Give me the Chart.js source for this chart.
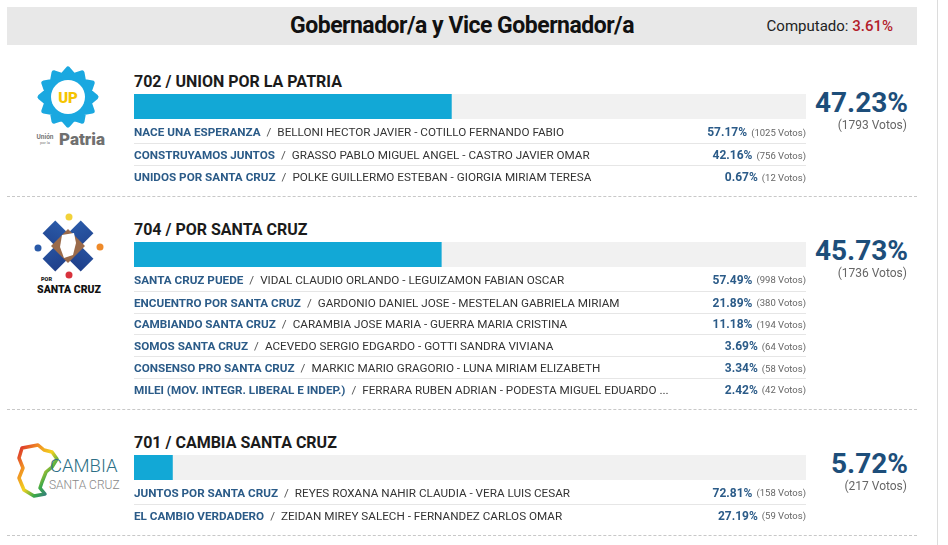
<!DOCTYPE html>
<html>
<head>
<meta charset="utf-8">
<script src="https://cdn.jsdelivr.net/npm/chart.js@4.4.0/dist/chart.umd.min.js"></script>
<style>
  body { margin: 0; background: #fff; font-family: Roboto, "Noto Sans", sans-serif; }
  #page { position: relative; width: 948px; height: 545px; overflow: hidden; }
  .abs { position: absolute; white-space: nowrap; }
  #header { left: 7px; top: 7px; width: 910px; height: 38px; background: #e8e8e8; }
  #title { left: 0; width: 910px; top: 0; line-height: 38px; text-align: center; font-size: 23px; font-weight: 700; color: #111; letter-spacing: -0.5px; }
  #computado { right: 24px; top: 0; line-height: 38px; font-size: 15px; color: #222; }
  #computado b { color: #b3202a; font-weight: 500; }
  #vline { left: 937px; top: 0; width: 1px; height: 545px; background: #dcdcdc; }
  .listTitle { font-size: 16px; font-weight: 700; color: #1b1b1b; line-height: 26px; }
  .row { left: 134px; width: 672px; font-size: 11.7px; color: #333; display: flex; align-items: center; }
  .row.sep { border-top: 1px solid #e6e6e6; }
  .row .nm { color: #2b5b88; font-weight: 700; }
  .row .sl { color: #555; margin: 0 6px; }
  .row .cand { flex: 1; overflow: hidden; }
  .row .pct { color: #2b5b88; font-weight: 700; font-size: 12px; }
  .row .vt { color: #666; font-size: 9.5px; margin-left: 4px; }
  .big { right: 40px; font-size: 28px; font-weight: 700; color: #1d4e7a; text-align: right; line-height: 30px; }
  .bigv { right: 41px; font-size: 12px; color: #666; text-align: right; }
  .dash { left: 7px; width: 910px; height: 0; border-top: 1px dashed #c8c8c8; }
</style>
</head>
<body>
<div id="page">
  <div id="header" class="abs">
    <div id="title" class="abs">Gobernador/a y Vice Gobernador/a</div>
    <div id="computado" class="abs">Computado: <b>3.61%</b></div>
  </div>
  <div id="vline" class="abs"></div>
</div>

<script>
// ================= DATA =================
const computado = 3.61;

const listNames = ["702 / UNION POR LA PATRIA", "704 / POR SANTA CRUZ", "701 / CAMBIA SANTA CRUZ"];
const listPct = [47.23, 45.73, 5.72];
const listVotes = [1793, 1736, 217];

const subNames = [
    ["NACE UNA ESPERANZA", "CONSTRUYAMOS JUNTOS", "UNIDOS POR SANTA CRUZ"],
    ["SANTA CRUZ PUEDE", "ENCUENTRO POR SANTA CRUZ", "CAMBIANDO SANTA CRUZ", "SOMOS SANTA CRUZ", "CONSENSO PRO SANTA CRUZ", "MILEI (MOV. INTEGR. LIBERAL E INDEP.)"],
    ["JUNTOS POR SANTA CRUZ", "EL CAMBIO VERDADERO"]
];
const subCandidates = [
    ["BELLONI HECTOR JAVIER - COTILLO FERNANDO FABIO", "GRASSO PABLO MIGUEL ANGEL - CASTRO JAVIER OMAR", "POLKE GUILLERMO ESTEBAN - GIORGIA MIRIAM TERESA"],
    ["VIDAL CLAUDIO ORLANDO - LEGUIZAMON FABIAN OSCAR", "GARDONIO DANIEL JOSE - MESTELAN GABRIELA MIRIAM", "CARAMBIA JOSE MARIA - GUERRA MARIA CRISTINA", "ACEVEDO SERGIO EDGARDO - GOTTI SANDRA VIVIANA", "MARKIC MARIO GRAGORIO - LUNA MIRIAM ELIZABETH", "FERRARA RUBEN ADRIAN - PODESTA MIGUEL EDUARDO ..."],
    ["REYES ROXANA NAHIR CLAUDIA - VERA LUIS CESAR", "ZEIDAN MIREY SALECH - FERNANDEZ CARLOS OMAR"]
];
const subPct = [
    [57.17, 42.16, 0.67],
    [57.49, 21.89, 11.18, 3.69, 3.34, 2.42],
    [72.81, 27.19]
];
const subVotes = [
    [1025, 756, 12],
    [998, 380, 194, 64, 58, 42],
    [158, 59]
];

// ================= HELPERS =================
const page = document.getElementById("page");

function addDiv(cls, style, html) {
    let d = document.createElement("div");
    d.className = "abs " + cls;
    d.style.cssText = style;
    d.innerHTML = html;
    page.appendChild(d);
    return d;
}

function fmt(v) {
    return v.toFixed(2) + "%";
}

// ================= LOGOS =================
function starPoints(cx, cy, n, r1, r2) {
    let pts = [];
    for (let i = 0; i < n * 2; i++) {
        let r = i % 2 === 0 ? r1 : r2;
        let a = Math.PI * i / n - Math.PI / 2;
        pts.push((cx + r * Math.cos(a)).toFixed(1) + "," + (cy + r * Math.sin(a)).toFixed(1));
    }
    return pts.join(" ");
}

const logos = [
    `<svg width="100" height="90" viewBox="0 0 100 90">
        <polygon points="${starPoints(52, 33, 12, 28, 22)}" fill="#1aa8e0" stroke="#1aa8e0" stroke-width="5" stroke-linejoin="round"/>
        <circle cx="52" cy="33" r="17" fill="#fff"/>
        <text x="52" y="39" text-anchor="middle" font-family="Roboto" font-weight="900" font-size="15" fill="#f5c400">UP</text>
        <text x="29" y="75" text-anchor="middle" font-family="Roboto" font-weight="700" font-size="6.5" fill="#777">Unión</text>
        <text x="29" y="80" text-anchor="middle" font-family="Roboto" font-size="4" fill="#777">por la</text>
        <text x="66" y="81" text-anchor="middle" font-family="Roboto" font-weight="900" font-size="17" fill="#707070">Patria</text>
    </svg>`,
    `<svg width="100" height="90" viewBox="0 0 100 90">
        <defs>
            <linearGradient id="gx" x1="0" y1="0" x2="1" y2="1">
                <stop offset="0" stop-color="#2a5aa8"/><stop offset="1" stop-color="#1f3f8a"/>
            </linearGradient>
        </defs>
        <g transform="rotate(45 50 35)">
            <rect x="41" y="8" width="18" height="54" fill="url(#gx)"/>
            <rect x="23" y="26" width="54" height="18" fill="url(#gx)"/>
        </g>
        <rect x="38" y="23" width="24" height="24" fill="#9a6a4a" transform="rotate(45 50 35)"/>
        <path d="M44 24 L56 22 L58 32 L55 44 L46 47 L42 36 Z" fill="#fff"/>
        <circle cx="51" cy="6" r="3.5" fill="#f2d23a"/>
        <circle cx="20" cy="37" r="3.5" fill="#2a5aa8"/>
        <circle cx="82" cy="36" r="3.5" fill="#ee8a2a"/>
        <circle cx="51" cy="64" r="3.5" fill="#d8323c"/>
        <text x="23" y="70" font-family="Roboto" font-weight="900" font-size="5.5" fill="#111">POR</text>
        <text x="51" y="82" text-anchor="middle" font-family="Roboto" font-weight="900" font-size="10.5" fill="#111">SANTA CRUZ</text>
    </svg>`,
    `<svg width="115" height="70" viewBox="0 0 115 70">
        <defs>
            <linearGradient id="gr" x1="0" y1="0" x2="1" y2="1">
                <stop offset="0" stop-color="#d8262c"/><stop offset="0.25" stop-color="#f08a24"/>
                <stop offset="0.5" stop-color="#f2d21f"/><stop offset="0.7" stop-color="#39a84a"/>
                <stop offset="1" stop-color="#3355b0"/>
            </linearGradient>
        </defs>
        <path d="M10 16 L26 13 L32 18 L40 20 L45 27 L40 35 L34 40 L30 50 L28 56 L33 62 L22 64 L12 58 L7 46 L11 36 L7 26 Z" fill="none" stroke="url(#gr)" stroke-width="3.5" stroke-linejoin="round"/>
        <text x="38" y="40" font-family="Roboto" font-weight="300" font-size="18.5" fill="#2d6f86">CAMBIA</text>
        <text x="37" y="57" font-family="Roboto" font-weight="300" font-size="12" fill="#888">SANTA CRUZ</text>
    </svg>`
];
const logoPos = [
    { left: 16, top: 64 },
    { left: 18, top: 211 },
    { left: 12, top: 432 }
];

// ================= SECTIONS =================
const rowH = [22, 21.8, 21.8];
let y = 68;

for (let i = 0; i < listNames.length; i++) {
    addDiv("", `left:${logoPos[i].left}px; top:${logoPos[i].top}px;`, logos[i]);

    addDiv("listTitle", `left:134px; top:${y + 1}px;`, listNames[i]);

    let barTop = y + 26;
    let holder = addDiv("", `left:134px; top:${barTop}px; width:672px; height:25px;`, "");
    let canvas = document.createElement("canvas");
    canvas.width = 672;
    canvas.height = 25;
    holder.appendChild(canvas);

    new Chart(canvas, {
        type: "bar",
        data: {
            labels: [listNames[i]],
            datasets: [
                { data: [listPct[i]], backgroundColor: "#12a8d6", order: 0, grouped: false },
                { data: [100], backgroundColor: "#f1f1f1", order: 1, grouped: false }
            ]
        },
        options: {
            indexAxis: "y",
            responsive: false,
            animation: false,
            devicePixelRatio: 1,
            barPercentage: 1,
            categoryPercentage: 1,
            layout: { padding: 0 },
            plugins: { legend: { display: false }, tooltip: { enabled: false } },
            scales: {
                x: { min: 0, max: 100, display: false },
                y: { display: false }
            }
        }
    });

    addDiv("big", `top:${barTop - 6}px;`, fmt(listPct[i]));
    addDiv("bigv", `top:${barTop + 24}px;`, `(${listVotes[i]} Votos)`);

    let ry = barTop + 27;
    for (let j = 0; j < subNames[i].length; j++) {
        addDiv("row" + (j > 0 ? " sep" : ""), `top:${ry}px; height:${rowH[i]}px;`,
            `<span class="nm">${subNames[i][j]}</span><span class="sl">/</span>` +
            `<span class="cand">${subCandidates[i][j]}</span>` +
            `<span class="pct">${fmt(subPct[i][j])}</span><span class="vt">(${subVotes[i][j]} Votos)</span>`);
        ry += rowH[i];
    }

    let dashY = Math.round(ry + 9);
    addDiv("dash", `top:${dashY}px;`, "");
    y = dashY + 20;
}
</script>
</body>
</html>
